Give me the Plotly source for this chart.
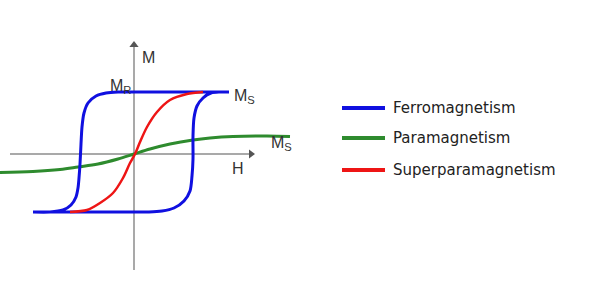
import plotly.graph_objects as go

# Hysteresis curves (H, M in picture units, origin at axes cross)
ferro_H = [-101, -80, -60, -40, -20, 0, 15, 28, 40, 50, 56, 58, 59, 59, 60, 63, 69, 77, 86, 95,
           80, 60, 40, 20, 0, -16, -28, -38, -46, -50, -52, -53, -54, -55, -56, -58, -63, -71, -84, -101]
ferro_M = [-58, -58, -58, -58, -58, -58, -58, -57, -54, -47, -37, -22, -5, 18, 36, 48, 56, 61, 62, 62,
           62, 62, 62, 62, 62, 62, 61, 58, 51, 41, 27, 10, -10, -24, -34, -43, -51, -56, -58, -58]

para_H = [-134, -101, -74, -56, -36, -16, 0, 16, 36, 59, 76, 99, 133, 156]
para_M = [-18.5, -17.5, -15.5, -13, -10, -5, 0, 5, 10, 14, 16, 17.5, 18, 17.5]

super_H = [-64, -47, -34, -21, -11, -4, 1, 6, 13, 23, 36, 53, 69]
super_M = [-58, -56, -49, -39, -24, -9, 0, 12, 27, 42, 54, 60, 62]

axis_H = [-124, 117]   # horizontal axis extent
axis_M = [-116, 109]   # vertical axis extent

legend_names = ["Ferromagnetism", "Paramagnetism", "Superparamagnetism"]
colors = ["#1010e0", "#2e8b2e", "#ee1515"]
axis_col = "#8c8c8c"

fig = go.Figure()
# axes
fig.add_trace(go.Scatter(x=axis_H, y=[0, 0], mode="lines", line=dict(color=axis_col, width=1.5), hoverinfo="skip"))
fig.add_trace(go.Scatter(x=[0, 0], y=axis_M, mode="lines", line=dict(color=axis_col, width=1.5), hoverinfo="skip"))
fig.add_trace(go.Scatter(x=[axis_H[1]], y=[0], mode="markers", marker=dict(symbol="triangle-right", size=8, color="#555555"), hoverinfo="skip"))
fig.add_trace(go.Scatter(x=[0], y=[axis_M[1]], mode="markers", marker=dict(symbol="triangle-up", size=8, color="#555555"), hoverinfo="skip"))

fig.add_trace(go.Scatter(x=para_H, y=para_M, mode="lines", line=dict(color=colors[1], width=3, shape="spline", smoothing=1), hoverinfo="skip"))
fig.add_trace(go.Scatter(x=ferro_H, y=ferro_M, mode="lines", line=dict(color=colors[0], width=3, shape="spline", smoothing=0.8), hoverinfo="skip"))
fig.add_trace(go.Scatter(x=super_H, y=super_M, mode="lines", line=dict(color=colors[2], width=2.5, shape="spline", smoothing=0.8), hoverinfo="skip"))

lab_font = dict(family="Liberation Sans, Arial", size=16, color="#333333")
for txt, x, y in [("M", 14, 97), ("M<sub>R</sub>", -14, 68), ("M<sub>S</sub>", 110, 58),
                  ("M<sub>S</sub>", 147, 11), ("H", 104, -14)]:
    fig.add_annotation(x=x, y=y, text=txt, showarrow=False, font=lab_font, xanchor="center", yanchor="middle")

# manual legend
leg_y = [108, 138, 170]
for name, col, py in zip(legend_names, colors, leg_y):
    fig.add_shape(type="line", xref="paper", yref="paper", x0=342/600, x1=385/600,
                  y0=1 - py/300, y1=1 - py/300, line=dict(color=col, width=4))
    fig.add_annotation(xref="paper", yref="paper", x=391/600, y=1 - py/300, text=name,
                       showarrow=False, xanchor="left", yanchor="middle",
                       font=dict(family="DejaVu Sans", size=15, color="#222222"))

fig.update_layout(width=600, height=300, margin=dict(l=0, r=0, t=0, b=0),
                  paper_bgcolor="white", plot_bgcolor="white", showlegend=False,
                  xaxis=dict(range=[-134, 466], visible=False, fixedrange=True),
                  yaxis=dict(range=[-146, 154], visible=False, fixedrange=True))
fig.write_html("out.html")
